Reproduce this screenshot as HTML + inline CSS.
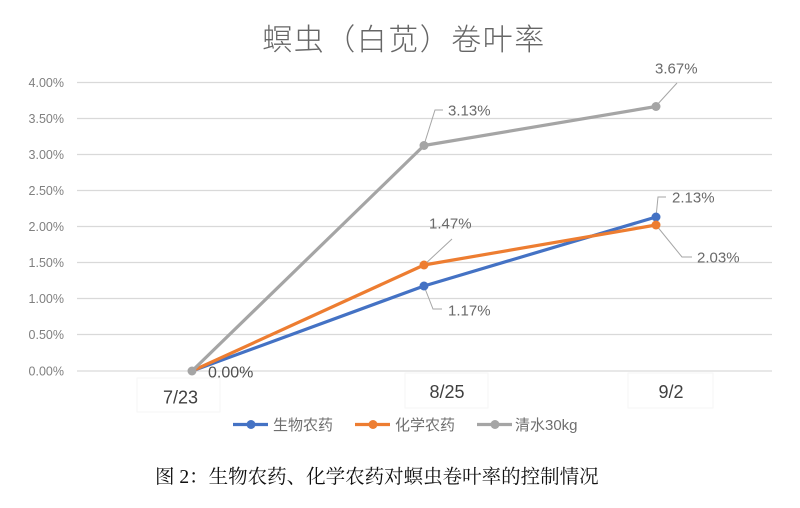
<!DOCTYPE html>
<html><head><meta charset="utf-8"><style>
html,body{margin:0;padding:0;background:#fff;width:800px;height:508px;overflow:hidden}
svg{display:block}
</style></head><body>
<svg width="800" height="508" viewBox="0 0 800 508" xmlns="http://www.w3.org/2000/svg">
<rect width="800" height="508" fill="#fff"/>
<text x="404" y="50" text-anchor="middle" font-family="'Liberation Sans','Noto Sans CJK SC',sans-serif" font-size="30" font-weight="300" fill="#666666" letter-spacing="1.5">螟虫（白苋）卷叶率</text>
<g stroke="#d9d9d9" stroke-width="1.2">
<line x1="77" y1="82.5" x2="772" y2="82.5"/>
<line x1="77" y1="118.5" x2="772" y2="118.5"/>
<line x1="77" y1="154.5" x2="772" y2="154.5"/>
<line x1="77" y1="190.5" x2="772" y2="190.5"/>
<line x1="77" y1="226.5" x2="772" y2="226.5"/>
<line x1="77" y1="262.5" x2="772" y2="262.5"/>
<line x1="77" y1="298.5" x2="772" y2="298.5"/>
<line x1="77" y1="334.5" x2="772" y2="334.5"/>
<line x1="77" y1="371" x2="772" y2="371"/>
</g>
<g font-family="'Liberation Sans',sans-serif" font-size="12.5" fill="#808080" text-anchor="end">
<text x="64" y="87">4.00%</text>
<text x="64" y="123">3.50%</text>
<text x="64" y="159">3.00%</text>
<text x="64" y="195">2.50%</text>
<text x="64" y="231">2.00%</text>
<text x="64" y="267">1.50%</text>
<text x="64" y="303">1.00%</text>
<text x="64" y="339">0.50%</text>
<text x="64" y="375.5">0.00%</text>
</g>
<g fill="none" stroke="#f6f6f6" stroke-width="1">
<rect x="137" y="378" width="83" height="34"/>
<rect x="405" y="373" width="83" height="35"/>
<rect x="628" y="373" width="85" height="35"/>
</g>
<g font-family="'Liberation Sans',sans-serif" font-size="18" fill="#404040" text-anchor="middle">
<text x="180.5" y="403.5">7/23</text>
<text x="447" y="398">8/25</text>
<text x="671" y="398">9/2</text>
</g>
<g stroke="#a6a6a6" stroke-width="1" fill="none">
<polyline points="424,145 435,110 443,110"/>
<polyline points="656,106 677,83"/>
<polyline points="424,265 452,239"/>
<polyline points="424,286 433,309 442,309"/>
<polyline points="656,217 658,197 666,197"/>
<polyline points="656,225 682,257 692,257"/>
</g>
<polyline points="192,371 424,286 656,217" fill="none" stroke="#4472c4" stroke-width="3.2" stroke-linejoin="round"/>
<polyline points="192,371 424,265 656,225" fill="none" stroke="#ed7d31" stroke-width="3.2" stroke-linejoin="round"/>
<polyline points="192,371 424,145.5 656,106.5" fill="none" stroke="#a5a5a5" stroke-width="3.2" stroke-linejoin="round"/>
<g fill="#4472c4"><circle cx="424" cy="286" r="4.5"/><circle cx="656" cy="217" r="4.5"/></g>
<g fill="#ed7d31"><circle cx="424" cy="265" r="4.5"/><circle cx="656" cy="225" r="4.5"/></g>
<g fill="#a5a5a5"><circle cx="192" cy="371" r="4.5"/><circle cx="424" cy="145.5" r="4.5"/><circle cx="656" cy="106.5" r="4.5"/></g>
<g font-family="'Liberation Sans',sans-serif" font-size="15" fill="#6a6a6a">
<text x="448" y="115.5">3.13%</text>
<text x="655" y="73.5">3.67%</text>
<text x="429" y="228.5">1.47%</text>
<text x="448" y="315.5">1.17%</text>
<text x="672" y="202.5">2.13%</text>
<text x="697" y="262.5">2.03%</text>
</g>
<text x="208" y="377.5" font-family="'Liberation Sans',sans-serif" font-size="16" fill="#505050">0.00%</text>
<g stroke-width="3.2">
<line x1="233" y1="424.5" x2="268" y2="424.5" stroke="#4472c4"/>
<line x1="355" y1="424.5" x2="390" y2="424.5" stroke="#ed7d31"/>
<line x1="477" y1="424.5" x2="512" y2="424.5" stroke="#a5a5a5"/>
</g>
<circle cx="251" cy="424.5" r="4.5" fill="#4472c4"/>
<circle cx="373" cy="424.5" r="4.5" fill="#ed7d31"/>
<circle cx="495" cy="424.5" r="4.5" fill="#a5a5a5"/>
<g font-family="'Liberation Sans','Noto Sans CJK SC',sans-serif" font-size="15" fill="#6f6f6f">
<text x="273" y="430">生物农药</text>
<text x="395" y="430">化学农药</text>
<text x="515" y="430">清水30kg</text>
</g>
<text x="155" y="483" font-family="'Liberation Serif','Noto Serif CJK SC',serif" font-size="19.5" fill="#111">图 2：生物农药、化学农药对螟虫卷叶率的控制情况</text>
</svg>
</body></html>
